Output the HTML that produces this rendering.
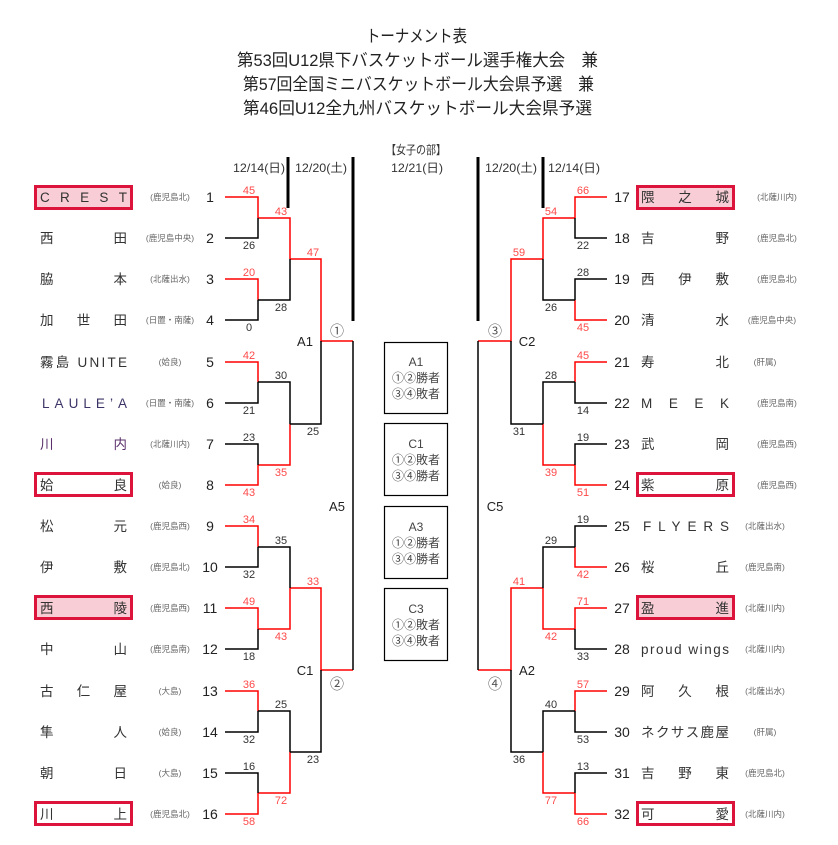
<!DOCTYPE html>
<html><head><meta charset="utf-8"><style>
html,body{margin:0;padding:0;background:#fff;}
svg{display:block;}
text{font-family:"Liberation Sans","Noto Sans CJK JP",sans-serif;}
.t{font-size:17px;fill:#222;}
.d{font-size:12px;fill:#333;}
.n{font-size:13.5px;fill:#333;}
.num{font-size:14px;fill:#222;text-anchor:middle;}
.r{font-size:8.5px;fill:#666;text-anchor:middle;}
.sr{font-size:11px;fill:#ff4a4a;text-anchor:middle;}
.sb{font-size:11px;fill:#333;text-anchor:middle;}
.lb{font-size:13px;fill:#222;text-anchor:middle;}
.c{font-size:14px;fill:#555;text-anchor:middle;font-family:"Noto Sans CJK JP",sans-serif;}
.bx{font-size:12px;fill:#444;text-anchor:middle;}
</style></head><body>
<svg width="838" height="845" viewBox="0 0 838 845" xmlns="http://www.w3.org/2000/svg">
<text class="t" x="366" y="42" textLength="101" lengthAdjust="spacingAndGlyphs">トーナメント表</text>
<text class="t" x="237" y="66" textLength="361" lengthAdjust="spacingAndGlyphs">第53回U12県下バスケットボール選手権大会　兼</text>
<text class="t" x="243" y="90" textLength="351" lengthAdjust="spacingAndGlyphs">第57回全国ミニバスケットボール大会県予選　兼</text>
<text class="t" x="243" y="114" textLength="349" lengthAdjust="spacingAndGlyphs">第46回U12全九州バスケットボール大会県予選</text>
<text class="d" x="386" y="154" textLength="60" lengthAdjust="spacingAndGlyphs">【女子の部】</text>
<text class="d" x="391" y="172" textLength="52" lengthAdjust="spacingAndGlyphs">12/21(日)</text>
<text class="d" x="233" y="172" textLength="52" lengthAdjust="spacingAndGlyphs">12/14(日)</text>
<text class="d" x="295" y="172" textLength="52" lengthAdjust="spacingAndGlyphs">12/20(土)</text>
<text class="d" x="485" y="172" textLength="52" lengthAdjust="spacingAndGlyphs">12/20(土)</text>
<text class="d" x="548" y="172" textLength="52" lengthAdjust="spacingAndGlyphs">12/14(日)</text>
<g stroke="#000" stroke-width="3">
<line x1="288" y1="157" x2="288" y2="208"/><line x1="353" y1="157" x2="353" y2="321"/>
<line x1="478" y1="157" x2="478" y2="321"/><line x1="543" y1="157" x2="543" y2="208"/>
</g>
<g stroke="#dc143c" stroke-width="3">
<rect x="35.5" y="186.5" width="96" height="22" fill="#f8cdd6"/>
<rect x="35.5" y="473.5" width="96" height="22" fill="#fff"/>
<rect x="35.5" y="596.5" width="96" height="22" fill="#f8cdd6"/>
<rect x="35.5" y="802.5" width="96" height="22" fill="#fff"/>
<rect x="637.5" y="186.5" width="96" height="22" fill="#f8cdd6"/>
<rect x="637.5" y="473.5" width="96" height="22" fill="#fff"/>
<rect x="637.5" y="596.5" width="96" height="22" fill="#f8cdd6"/>
<rect x="637.5" y="802.5" width="96" height="22" fill="#fff"/>
</g>
<g stroke-width="1.5" fill="none">
<g stroke="#f00">
<path d="M225 197H258V218"/><path d="M225 279H258V300"/><path d="M225 362H258V382"/><path d="M225 485H258V465"/>
<path d="M225 526H258V547"/><path d="M225 608H258V629"/><path d="M225 691H258V711"/><path d="M225 814H258V793"/>
<path d="M258 218H290V259"/><path d="M258 465H290V424"/><path d="M258 629H290V588"/><path d="M258 793H290V752"/>
<path d="M290 259H321V341H353"/><path d="M290 588H321V670H353"/>
</g>
<g stroke="#000">
<path d="M225 238H258V218"/><path d="M225 320H258V300"/><path d="M225 403H258V382"/><path d="M225 444H258V465"/>
<path d="M225 567H258V547"/><path d="M225 649H258V629"/><path d="M225 732H258V711"/><path d="M225 773H258V793"/>
<path d="M258 300H290V259"/><path d="M258 382H290V424"/><path d="M258 547H290V588"/><path d="M258 711H290V752"/>
<path d="M290 424H321V341"/><path d="M290 752H321V670"/>
<path d="M353 341V670"/>
</g>
<g stroke="#f00">
<path d="M607 197H575V218"/><path d="M607 320H575V300"/><path d="M607 362H575V382"/><path d="M607 485H575V465"/>
<path d="M607 567H575V547"/><path d="M607 608H575V629"/><path d="M607 691H575V711"/><path d="M607 814H575V793"/>
<path d="M575 218H543V259"/><path d="M575 465H543V424"/><path d="M575 629H543V588"/><path d="M575 793H543V752"/>
<path d="M543 259H511V341H478"/><path d="M543 588H511V670H478"/>
</g>
<g stroke="#000">
<path d="M607 238H575V218"/><path d="M607 279H575V300"/><path d="M607 403H575V382"/><path d="M607 444H575V465"/>
<path d="M607 526H575V547"/><path d="M607 649H575V629"/><path d="M607 732H575V711"/><path d="M607 773H575V793"/>
<path d="M575 300H543V259"/><path d="M575 382H543V424"/><path d="M575 547H543V588"/><path d="M575 711H543V752"/>
<path d="M543 424H511V341"/><path d="M543 752H511V670"/>
<path d="M478 341V670"/>
</g>
</g>
<g stroke="#000" stroke-width="1.2" fill="none">
<rect x="384.5" y="342.5" width="63" height="71"/>
<rect x="384.5" y="423.5" width="63" height="72"/>
<rect x="384.5" y="506.5" width="63" height="72"/>
<rect x="384.5" y="588.5" width="63" height="72"/>
</g>
<text class="bx" x="416" y="366">A1</text><text class="bx" x="416" y="382">①②勝者</text><text class="bx" x="416" y="398">③④敗者</text>
<text class="bx" x="416" y="448">C1</text><text class="bx" x="416" y="464">①②敗者</text><text class="bx" x="416" y="480">③④勝者</text>
<text class="bx" x="416" y="531">A3</text><text class="bx" x="416" y="547">①②勝者</text><text class="bx" x="416" y="563">③④勝者</text>
<text class="bx" x="416" y="613">C3</text><text class="bx" x="416" y="629">①②敗者</text><text class="bx" x="416" y="645">③④敗者</text>
<text class="lb" x="305" y="346">A1</text><text class="c" x="337" y="336">①</text>
<text class="lb" x="337" y="511">A5</text>
<text class="lb" x="305" y="675">C1</text><text class="c" x="337" y="689">②</text>
<text class="lb" x="527" y="346">C2</text><text class="c" x="495" y="336">③</text>
<text class="lb" x="495" y="511">C5</text>
<text class="lb" x="527" y="675">A2</text><text class="c" x="495" y="689">④</text>
<text class="sr" x="249" y="194">45</text><text class="sb" x="249" y="249">26</text>
<text class="sr" x="249" y="276">20</text><text class="sb" x="249" y="331">0</text>
<text class="sr" x="249" y="359">42</text><text class="sb" x="249" y="414">21</text>
<text class="sb" x="249" y="441">23</text><text class="sr" x="249" y="496">43</text>
<text class="sr" x="249" y="523">34</text><text class="sb" x="249" y="578">32</text>
<text class="sr" x="249" y="605">49</text><text class="sb" x="249" y="660">18</text>
<text class="sr" x="249" y="688">36</text><text class="sb" x="249" y="743">32</text>
<text class="sb" x="249" y="770">16</text><text class="sr" x="249" y="825">58</text>
<text class="sr" x="281" y="215">43</text><text class="sb" x="281" y="311">28</text>
<text class="sb" x="281" y="379">30</text><text class="sr" x="281" y="476">35</text>
<text class="sb" x="281" y="544">35</text><text class="sr" x="281" y="640">43</text>
<text class="sb" x="281" y="708">25</text><text class="sr" x="281" y="804">72</text>
<text class="sr" x="313" y="256">47</text><text class="sb" x="313" y="435">25</text>
<text class="sr" x="313" y="585">33</text><text class="sb" x="313" y="763">23</text>
<text class="sr" x="583" y="194">66</text><text class="sb" x="583" y="249">22</text>
<text class="sb" x="583" y="276">28</text><text class="sr" x="583" y="331">45</text>
<text class="sr" x="583" y="359">45</text><text class="sb" x="583" y="414">14</text>
<text class="sb" x="583" y="441">19</text><text class="sr" x="583" y="496">51</text>
<text class="sb" x="583" y="523">19</text><text class="sr" x="583" y="578">42</text>
<text class="sr" x="583" y="605">71</text><text class="sb" x="583" y="660">33</text>
<text class="sr" x="583" y="688">57</text><text class="sb" x="583" y="743">53</text>
<text class="sb" x="583" y="770">13</text><text class="sr" x="583" y="825">66</text>
<text class="sr" x="551" y="215">54</text><text class="sb" x="551" y="311">26</text>
<text class="sb" x="551" y="379">28</text><text class="sr" x="551" y="476">39</text>
<text class="sb" x="551" y="544">29</text><text class="sr" x="551" y="640">42</text>
<text class="sb" x="551" y="708">40</text><text class="sr" x="551" y="804">77</text>
<text class="sr" x="519" y="256">59</text><text class="sb" x="519" y="435">31</text>
<text class="sr" x="519" y="585">41</text><text class="sb" x="519" y="763">36</text>
<g>
<text class="n" x="40" y="202" textLength="87" lengthAdjust="spacing">CREST</text><text class="r" x="170" y="200">(鹿児島北)</text><text class="num" x="210" y="202">1</text>
<text class="n" x="40" y="243" textLength="87" lengthAdjust="spacing">西田</text><text class="r" x="170" y="241">(鹿児島中央)</text><text class="num" x="210" y="243">2</text>
<text class="n" x="40" y="284" textLength="87" lengthAdjust="spacing">脇本</text><text class="r" x="170" y="282">(北薩出水)</text><text class="num" x="210" y="284">3</text>
<text class="n" x="40" y="325" textLength="87" lengthAdjust="spacing">加世田</text><text class="r" x="170" y="323">(日置・南薩)</text><text class="num" x="210" y="325">4</text>
<text class="n" x="40" y="367" textLength="87" lengthAdjust="spacing">霧島 UNITE</text><text class="r" x="170" y="365">(姶良)</text><text class="num" x="210" y="367">5</text>
<text class="n" x="42" y="408" textLength="85" lengthAdjust="spacing" style="fill:#3c3466">LAULE’A</text><text class="r" x="170" y="406">(日置・南薩)</text><text class="num" x="210" y="408">6</text>
<text class="n" x="40" y="449" textLength="87" lengthAdjust="spacing" style="fill:#5a2f6a">川内</text><text class="r" x="170" y="447">(北薩川内)</text><text class="num" x="210" y="449">7</text>
<text class="n" x="40" y="490" textLength="87" lengthAdjust="spacing">姶良</text><text class="r" x="170" y="488">(姶良)</text><text class="num" x="210" y="490">8</text>
<text class="n" x="40" y="531" textLength="87" lengthAdjust="spacing">松元</text><text class="r" x="170" y="529">(鹿児島西)</text><text class="num" x="210" y="531">9</text>
<text class="n" x="40" y="572" textLength="87" lengthAdjust="spacing">伊敷</text><text class="r" x="170" y="570">(鹿児島北)</text><text class="num" x="210" y="572">10</text>
<text class="n" x="40" y="613" textLength="87" lengthAdjust="spacing">西陵</text><text class="r" x="170" y="611">(鹿児島西)</text><text class="num" x="210" y="613">11</text>
<text class="n" x="40" y="654" textLength="87" lengthAdjust="spacing">中山</text><text class="r" x="170" y="652">(鹿児島南)</text><text class="num" x="210" y="654">12</text>
<text class="n" x="40" y="696" textLength="87" lengthAdjust="spacing">古仁屋</text><text class="r" x="170" y="694">(大島)</text><text class="num" x="210" y="696">13</text>
<text class="n" x="40" y="737" textLength="87" lengthAdjust="spacing">隼人</text><text class="r" x="170" y="735">(姶良)</text><text class="num" x="210" y="737">14</text>
<text class="n" x="40" y="778" textLength="87" lengthAdjust="spacing">朝日</text><text class="r" x="170" y="776">(大島)</text><text class="num" x="210" y="778">15</text>
<text class="n" x="40" y="819" textLength="87" lengthAdjust="spacing">川上</text><text class="r" x="170" y="817">(鹿児島北)</text><text class="num" x="210" y="819">16</text>
</g>
<g>
<text class="num" x="622" y="202">17</text><text class="n" x="641" y="202" textLength="88" lengthAdjust="spacing">隈之城</text><text class="r" x="777" y="200">(北薩川内)</text>
<text class="num" x="622" y="243">18</text><text class="n" x="641" y="243" textLength="88" lengthAdjust="spacing">吉野</text><text class="r" x="777" y="241">(鹿児島北)</text>
<text class="num" x="622" y="284">19</text><text class="n" x="641" y="284" textLength="88" lengthAdjust="spacing">西伊敷</text><text class="r" x="777" y="282">(鹿児島北)</text>
<text class="num" x="622" y="325">20</text><text class="n" x="641" y="325" textLength="88" lengthAdjust="spacing">清水</text><text class="r" x="772" y="323">(鹿児島中央)</text>
<text class="num" x="622" y="367">21</text><text class="n" x="641" y="367" textLength="88" lengthAdjust="spacing">寿北</text><text class="r" x="765" y="365">(肝属)</text>
<text class="num" x="622" y="408">22</text><text class="n" x="641" y="408" textLength="88" lengthAdjust="spacing">MEEK</text><text class="r" x="777" y="406">(鹿児島南)</text>
<text class="num" x="622" y="449">23</text><text class="n" x="641" y="449" textLength="88" lengthAdjust="spacing">武岡</text><text class="r" x="777" y="447">(鹿児島西)</text>
<text class="num" x="622" y="490">24</text><text class="n" x="641" y="490" textLength="88" lengthAdjust="spacing">紫原</text><text class="r" x="777" y="488">(鹿児島西)</text>
<text class="num" x="622" y="531">25</text><text class="n" x="643" y="531" textLength="86" lengthAdjust="spacing">FLYERS</text><text class="r" x="765" y="529">(北薩出水)</text>
<text class="num" x="622" y="572">26</text><text class="n" x="641" y="572" textLength="88" lengthAdjust="spacing">桜丘</text><text class="r" x="765" y="570">(鹿児島南)</text>
<text class="num" x="622" y="613">27</text><text class="n" x="641" y="613" textLength="88" lengthAdjust="spacing">盈進</text><text class="r" x="765" y="611">(北薩川内)</text>
<text class="num" x="622" y="654">28</text><text class="n" x="641" y="654" textLength="88" lengthAdjust="spacing">proud wings</text><text class="r" x="765" y="652">(北薩川内)</text>
<text class="num" x="622" y="696">29</text><text class="n" x="641" y="696" textLength="88" lengthAdjust="spacing">阿久根</text><text class="r" x="765" y="694">(北薩出水)</text>
<text class="num" x="622" y="737">30</text><text class="n" x="641" y="737" textLength="88" lengthAdjust="spacing">ネクサス鹿屋</text><text class="r" x="765" y="735">(肝属)</text>
<text class="num" x="622" y="778">31</text><text class="n" x="641" y="778" textLength="88" lengthAdjust="spacing">吉野東</text><text class="r" x="765" y="776">(鹿児島北)</text>
<text class="num" x="622" y="819">32</text><text class="n" x="641" y="819" textLength="88" lengthAdjust="spacing">可愛</text><text class="r" x="765" y="817">(北薩川内)</text>
</g>
</svg>
</body></html>
